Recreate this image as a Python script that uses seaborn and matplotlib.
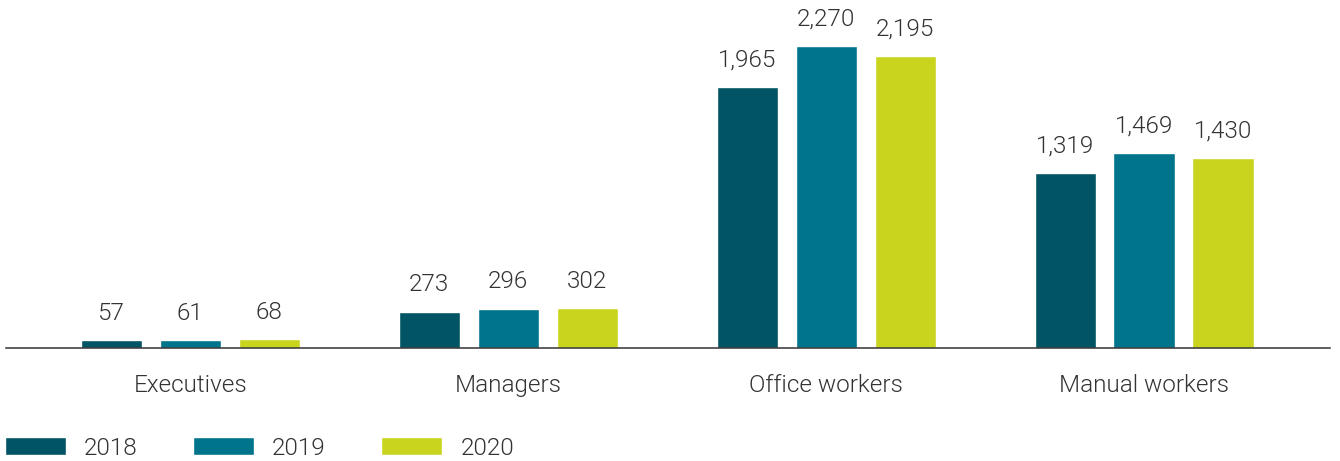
import pandas as pd
import matplotlib.pyplot as plt
import seaborn as sns

# dati
categories = ['Executives', 'Managers', 'Office workers', 'Manual workers']
years = ['2018', '2019', '2020']
values_2018 = [57, 273, 1965, 1319]
values_2019 = [61, 296, 2270, 1469]
values_2020 = [68, 302, 2195, 1430]
colors = ['#005463', '#00748b', '#c9d41f']

df = pd.DataFrame({
    'category': categories * 3,
    'year': [years[0]] * 4 + [years[1]] * 4 + [years[2]] * 4,
    'value': values_2018 + values_2019 + values_2020,
})

sns.set_style('white')
plt.rcParams['font.family'] = ['Roboto', 'DejaVu Sans']
text_color = '#333333'
fs = 17.5
fw = 300  # Roboto Light

fig = plt.figure(figsize=(13.4, 4.61), dpi=100)
ax = fig.add_axes([6 / 1340, 113 / 461, 1324 / 1340, 348 / 461])

sns.barplot(data=df, x='category', y='value', hue='year', palette=colors,
            width=0.745, gap=0.226, saturation=1, ax=ax, legend=True)

for cont in ax.containers:
    ax.bar_label(cont, labels=[f'{v:,.0f}' for v in cont.datavalues],
                 padding=11, fontsize=fs, color=text_color, fontweight=fw)

ax.set_xlim(-0.58, 3.585)
ax.set_ylim(0, 2616)
ax.set_xlabel('')
ax.set_ylabel('')
ax.set_yticks([])
ax.tick_params(axis='x', length=0, pad=18.5, labelsize=fs, labelcolor=text_color)
for lab in ax.get_xticklabels():
    lab.set_fontweight(fw)
for s in ['top', 'right', 'left']:
    ax.spines[s].set_visible(False)
ax.spines['bottom'].set_color('#333333')
ax.spines['bottom'].set_linewidth(1.1)

handles, labels = ax.get_legend_handles_labels()
ax.get_legend().remove()
leg = fig.legend(handles, labels, loc='lower left', bbox_to_anchor=(-0.0035, -0.018),
                 ncol=3, frameon=False, fontsize=fs, handlelength=2.51,
                 handleheight=0.74, handletextpad=0.74, columnspacing=2.28,
                 borderaxespad=0.2, borderpad=0.2)
for t in leg.get_texts():
    t.set_color(text_color)
    t.set_fontweight(fw)

fig.savefig('out.png', dpi=100)
